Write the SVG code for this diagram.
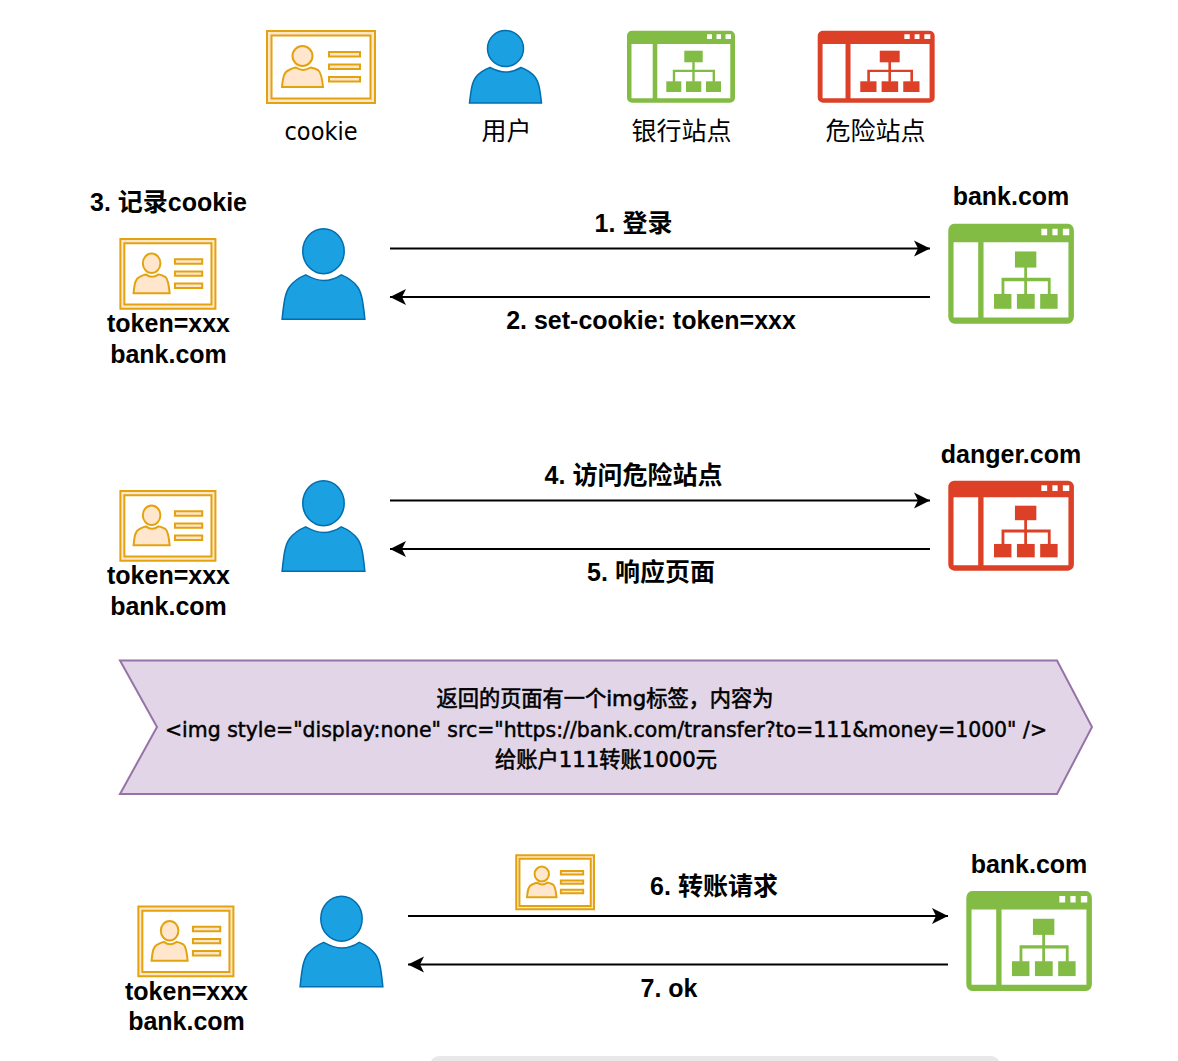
<svg xmlns="http://www.w3.org/2000/svg" xmlns:xlink="http://www.w3.org/1999/xlink" width="1178" height="1061" viewBox="0 0 1178 1061">
<style>
text{font-family:"Liberation Sans","Noto Sans CJK SC",sans-serif;font-size:25px;font-weight:700;fill:#000;text-anchor:middle}
text.c{font-family:"DejaVu Sans","Noto Sans CJK SC",sans-serif;font-weight:400;font-size:25px}
text.n{font-family:"DejaVu Sans","Noto Sans CJK SC",sans-serif;font-weight:400;font-size:22px;stroke:#000;stroke-width:.6px}
text.m{font-family:"DejaVu Sans","Noto Sans CJK SC",sans-serif;font-weight:400;font-size:21.5px;stroke:#000;stroke-width:.5px}
.link{fill:none;stroke:#000;stroke-width:2}
.green{fill:#82bc45}
.red{fill:#dc4027}
.u1{fill:#1ba1e2;stroke:#006eaf;stroke-width:1.5;vector-effect:non-scaling-stroke}
.k1{fill:#ffe6cc;stroke:#e3a30f;stroke-width:2;vector-effect:non-scaling-stroke}
.k2{fill:#fff;stroke:#e3a30f;stroke-width:2;vector-effect:non-scaling-stroke}
</style>
<defs>
<marker id="arrow" markerUnits="userSpaceOnUse" markerWidth="18" markerHeight="18" refX="16" refY="9" orient="auto-start-reverse">
<path d="M0 1 L16 9 L0 17 L4 9 Z" fill="#000"/>
</marker>
<g id="card">
<rect class="k1" x="1" y="1" width="108" height="72"/>
<rect class="k2" x="5.5" y="5.5" width="99" height="63"/>
<circle class="k1" cx="36.5" cy="26" r="10"/>
<path class="k1" d="M16 57 C17 47 18 42 23 40 C26 38.500 28 37.500 30 37.500 C33 39.500 36 40 37 40 C40 40 42 39 44.500 37.500 C47 38 50 39 52 40 C55 42 56 47 57 57 Z"/>
<rect class="k1" x="63" y="22" width="31" height="4.500"/>
<rect class="k1" x="63" y="34.500" width="31" height="4.500"/>
<rect class="k1" x="63" y="47" width="31" height="4.500"/>
</g>
<g id="user">
<ellipse class="u1" cx="36.500" cy="18.500" rx="18" ry="18"/>
<path class="u1" d="M0.500 73 C2 60 3 52 7 47 C11 42 17 39 21 37.500 C26 40 31 42 36.500 42 C42 42 48 40 52 37.500 C56 39 62 42 66 47 C70 52 71 60 72.500 73 Z"/>
</g>
<g id="site">
<path fill-rule="evenodd" d="M5 0 H103 A5 5 0 0 1 108 5 V67 A5 5 0 0 1 103 72 H5 A5 5 0 0 1 0 67 V5 A5 5 0 0 1 5 0 Z M4.500 13.300 V67.600 H25.700 V13.300 Z M30.300 13.300 V67.600 H103.300 V13.300 Z M80 3.600 V8.300 H85 V3.600 Z M89.500 3.600 V8.300 H94 V3.600 Z M98.500 3.600 V8.300 H104 V3.600 Z"/>
<rect x="57.300" y="20" width="18.400" height="11.600"/>
<rect x="39.300" y="50.600" width="15" height="10.700"/>
<rect x="59" y="50.600" width="15.300" height="10.700"/>
<rect x="79" y="50.600" width="15" height="10.700"/>
<path d="M65.300 31 H67.700 V39 H88 V51 H85.600 V41.400 H67.700 V51 H65.300 V41.400 H48.200 V51 H45.800 V39 H65.300 Z"/>
</g>
</defs>

<g id="connectors">
<path class="link" d="M390 248.500 H930" marker-end="url(#arrow)"/>
<path class="link" d="M930 297 H390" marker-end="url(#arrow)"/>
<path class="link" d="M390 500.500 H930" marker-end="url(#arrow)"/>
<path class="link" d="M930 549 H390" marker-end="url(#arrow)"/>
<path class="link" d="M408 916 H948" marker-end="url(#arrow)"/>
<path class="link" d="M948 964.500 H408" marker-end="url(#arrow)"/>
</g>

<g id="legend-cookie"><use href="#card" transform="translate(266 30)"/><text class="c" x="321" y="140" textLength="73" lengthAdjust="spacingAndGlyphs">cookie</text></g>
<g id="legend-user"><use href="#user" transform="translate(469 30)"/><text class="c" x="506.500" y="140">用户</text></g>
<g id="legend-bank"><use href="#site" class="green" transform="translate(627 30.700)"/><text class="c" x="681.500" y="140">银行站点</text></g>
<g id="legend-danger"><use href="#site" class="red" transform="translate(817.700 30.700) scale(1.083 1)"/><text class="c" x="875.500" y="140">危险站点</text></g>

<g id="cookie-1"><text x="168.500" y="211">3. 记录cookie</text><use href="#card" transform="translate(119.500 238) scale(.88 .97)"/><text x="168.500" y="332">token=xxx</text><text x="168.500" y="363">bank.com</text></g>
<g id="user-1"><use href="#user" transform="translate(281.500 228) scale(1.15 1.25)"/></g>
<g id="bank-1"><text x="1011" y="205">bank.com</text><use href="#site" class="green" transform="translate(948.300 223.700) scale(1.163 1.388)"/></g>
<g id="label-1"><text x="633.500" y="232">1. 登录</text></g>
<g id="label-2"><text x="651" y="329">2. set-cookie: token=xxx</text></g>

<g id="cookie-2"><use href="#card" transform="translate(119.500 490) scale(.88 .97)"/><text x="168.500" y="584">token=xxx</text><text x="168.500" y="615">bank.com</text></g>
<g id="user-2"><use href="#user" transform="translate(281.500 480) scale(1.15 1.25)"/></g>
<g id="danger-1"><text x="1011" y="463">danger.com</text><use href="#site" class="red" transform="translate(948.300 480.700) scale(1.163 1.25)"/></g>
<g id="label-4"><text x="633.500" y="484">4. 访问危险站点</text></g>
<g id="label-5"><text x="651" y="581">5. 响应页面</text></g>

<g id="note">
<path d="M120 660.500 H1057 L1092 727 L1057 794 H120 L157 727 Z" fill="#e1d5e7" stroke="#9673a6" stroke-width="2"/>
<text class="n" x="605" y="706" textLength="337" lengthAdjust="spacingAndGlyphs">返回的页面有一个img标签，内容为</text>
<text class="m" x="606" y="737" textLength="882" lengthAdjust="spacingAndGlyphs">&lt;img style="display:none" src="https://bank.com/transfer?to=111&amp;money=1000" /&gt;</text>
<text class="n" x="606" y="767" textLength="222" lengthAdjust="spacingAndGlyphs">给账户111转账1000元</text>
</g>

<g id="cookie-3"><use href="#card" transform="translate(137.500 905.500) scale(.88 .97)"/><text x="186.500" y="1000">token=xxx</text><text x="186.500" y="1030">bank.com</text></g>
<g id="user-3"><use href="#user" transform="translate(299.500 895.500) scale(1.15 1.25)"/></g>
<g id="bank-2"><text x="1029" y="873">bank.com</text><use href="#site" class="green" transform="translate(966.300 891) scale(1.163 1.388)"/></g>
<g id="cookie-4"><use href="#card" transform="translate(515.500 854.500) scale(.72 .75)"/></g>
<g id="label-6"><text x="714" y="895">6. 转账请求</text></g>
<g id="label-7"><text x="669" y="997">7. ok</text></g>
<rect id="footer-edge" x="430" y="1056" width="570" height="20" rx="9" fill="#e8e8e8"/>
</svg>
